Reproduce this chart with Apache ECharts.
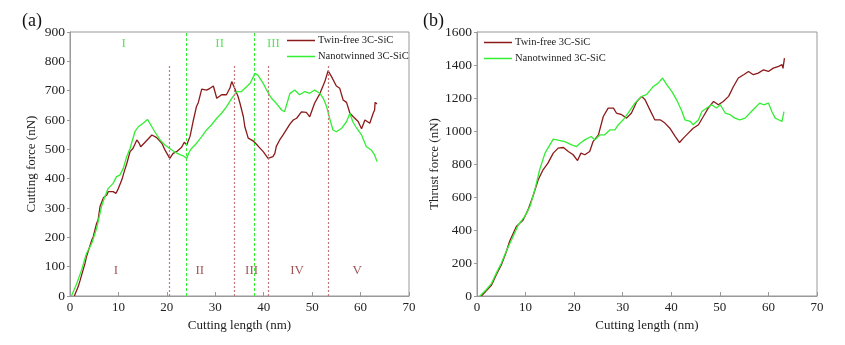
<!DOCTYPE html>
<html>
<head>
<meta charset="utf-8">
<script src="https://cdn.jsdelivr.net/npm/echarts@6/dist/echarts.min.js"></script>
<style>
  html, body { margin: 0; padding: 0; background: #fff; }
  #chart { width: 845px; height: 345px; }
</style>
</head>
<body>
<div id="chart"></div>
<script>
// (a) cutting force, twin-free
const cutTwinX = [0.9, 1.7, 2.1, 3.1, 3.4, 4.5, 4.8, 5.5, 5.8, 6.2, 6.9, 7.6, 7.9, 8.9, 9.5, 10.0, 10.7, 11.3, 11.7, 12.4, 13.0, 13.8, 14.3, 14.6, 15.6, 16.9, 17.9, 19.0, 19.6, 20.6, 21.3, 22.0, 23.0, 23.6, 24.1, 24.8, 25.4, 26.1, 26.5, 27.2, 28.2, 28.9, 29.6, 30.3, 31.3, 32.3, 33.0, 33.4, 34.0, 34.7, 35.1, 35.8, 36.1, 36.8, 37.8, 38.8, 39.9, 40.9, 41.3, 41.9, 42.3, 42.6, 43.3, 44.0, 44.3, 45.4, 46.1, 46.8, 47.8, 48.8, 49.5, 49.8, 50.5, 50.9, 51.6, 52.6, 53.3, 54.0, 55.0, 55.7, 56.4, 57.1, 57.8, 58.5, 59.5, 60.2, 60.5, 60.9, 61.2, 61.9, 62.6, 62.9, 63.0, 63.4];
const cutTwinY = [0, 32, 54, 111, 134, 191, 202, 248, 259, 305, 335, 344, 356, 356, 350, 367, 396, 430, 450, 492, 503, 532, 520, 509, 526, 549, 540, 520, 498, 469, 486, 492, 506, 524, 515, 545, 594, 645, 660, 705, 702, 708, 716, 674, 686, 686, 708, 731, 708, 680, 657, 611, 577, 538, 529, 512, 492, 469, 466, 475, 486, 510, 532, 549, 552, 586, 600, 606, 628, 626, 611, 612, 657, 660, 690, 730, 768, 748, 716, 708, 668, 660, 623, 611, 595, 570, 572, 600, 598, 589, 623, 634, 660, 655];
// (a) cutting force, nanotwinned
const cutNanoX = [0.3, 1.4, 2.4, 3.4, 4.5, 5.5, 6.5, 7.2, 7.9, 8.9, 9.6, 10.3, 11.0, 11.7, 12.4, 13.4, 14.1, 15.1, 16.0, 16.9, 17.5, 18.6, 19.6, 20.6, 21.7, 22.7, 23.4, 24.1, 24.6, 25.1, 26.1, 27.2, 28.2, 29.2, 30.3, 31.3, 32.3, 33.4, 34.4, 35.4, 36.5, 37.2, 38.2, 38.8, 39.9, 40.6, 41.6, 42.6, 43.7, 44.3, 45.4, 46.4, 47.4, 48.5, 49.5, 50.5, 51.6, 52.3, 53.0, 53.6, 54.3, 55.0, 56.1, 57.1, 57.8, 58.4, 59.2, 60.2, 61.2, 62.2, 62.9, 63.4];
const cutNanoY = [0, 43, 89, 145, 180, 231, 305, 339, 367, 384, 407, 412, 435, 475, 503, 560, 577, 589, 602, 577, 560, 532, 515, 503, 490, 482, 478, 469, 490, 503, 520, 543, 566, 583, 606, 623, 645, 674, 697, 697, 714, 725, 759, 753, 725, 702, 674, 657, 634, 628, 690, 702, 686, 697, 691, 702, 691, 674, 645, 606, 566, 560, 572, 594, 623, 594, 572, 549, 509, 498, 481, 458];

// (b) thrust force, twin-free
const thrTwinX = [0.9, 2.0, 3.0, 4.0, 5.0, 6.0, 6.7, 8.1, 9.5, 10.5, 11.5, 12.6, 13.6, 14.6, 15.7, 16.7, 17.8, 18.8, 19.8, 20.7, 21.4, 22.2, 23.2, 23.9, 25.0, 26.0, 27.0, 28.1, 28.7, 29.8, 30.8, 31.8, 32.9, 33.9, 34.6, 35.6, 36.6, 37.7, 38.7, 39.7, 40.8, 41.7, 42.5, 43.5, 44.5, 45.6, 46.6, 47.6, 48.7, 49.7, 50.7, 51.8, 52.8, 53.8, 54.9, 55.9, 56.9, 57.9, 59.0, 60.0, 61.0, 62.1, 62.8, 63.0, 63.3];
const thrTwinY = [0, 35, 67, 130, 188, 265, 330, 421, 461, 522, 603, 704, 765, 805, 866, 896, 900, 876, 856, 821, 866, 856, 876, 936, 977, 1088, 1139, 1139, 1109, 1099, 1078, 1109, 1179, 1210, 1189, 1128, 1068, 1068, 1048, 1017, 967, 930, 957, 987, 1017, 1038, 1088, 1139, 1179, 1159, 1179, 1210, 1270, 1321, 1341, 1361, 1341, 1351, 1371, 1361, 1381, 1392, 1402, 1380, 1442];
// (b) thrust force, nanotwinned
const thrNanoX = [0.6, 1.8, 3.0, 4.0, 5.0, 6.0, 7.1, 8.5, 9.8, 10.9, 11.9, 12.9, 14.0, 15.0, 15.7, 16.9, 18.1, 19.5, 20.5, 21.2, 22.2, 23.5, 24.3, 25.3, 26.3, 27.4, 28.4, 29.1, 30.1, 31.1, 32.5, 33.9, 34.9, 36.3, 37.3, 38.2, 39.1, 40.1, 41.1, 42.2, 42.8, 43.9, 44.5, 45.6, 46.3, 47.3, 48.3, 49.3, 50.1, 51.1, 52.1, 53.1, 54.1, 55.2, 56.2, 57.2, 58.2, 59.0, 60.0, 60.7, 61.4, 62.1, 62.8, 63.2];
const thrNanoY = [0, 35, 77, 140, 198, 270, 340, 431, 481, 542, 643, 765, 866, 916, 951, 943, 936, 916, 906, 926, 946, 967, 946, 977, 977, 1007, 1007, 1038, 1068, 1109, 1169, 1210, 1220, 1270, 1290, 1321, 1280, 1240, 1189, 1118, 1068, 1058, 1038, 1068, 1118, 1139, 1159, 1139, 1159, 1109, 1099, 1078, 1068, 1078, 1109, 1139, 1169, 1159, 1169, 1118, 1078, 1068, 1058, 1118];

// stage boundaries in (a)
const redBounds = [20.5, 34.0, 41.0, 53.3];
const redBoundTop = 785;
const greenBounds = [24.0, 38.0];
const greenBoundTop = 900;
const redStages = ['I', 'II', 'III', 'IV', 'V'];
const redStageX = [9.5, 26.8, 37.5, 46.9, 59.3];
const redStageY = 88;
const greenStages = ['I', 'II', 'III'];
const greenStageX = [11.1, 30.9, 42.0];
const greenStageY = 862;

const seriesNames = ['Twin-free 3C-SiC', 'Nanotwinned 3C-SiC'];
const RED = '#8b1a1a';
const GREEN = '#33ee33';
const FONT = '"Liberation Serif", "DejaVu Serif", serif';

function zip(xs, ys) { return xs.map((x, i) => [x, ys[i]]); }

function xAxisOpt(idx) {
  return {
    gridIndex: idx, type: 'value', min: 0, max: 70, interval: 10,
    name: 'Cutting length (nm)', nameLocation: 'middle', nameGap: 19,
    nameTextStyle: { fontFamily: FONT, fontSize: 13, color: '#222' },
    axisLine: { lineStyle: { color: '#999' } },
    axisTick: { inside: true, length: 4, lineStyle: { color: '#999' } },
    axisLabel: { fontFamily: FONT, fontSize: 13, color: '#222', margin: 5 },
    splitLine: { show: false }
  };
}
function yAxisOpt(idx, name, max, interval, gap) {
  return {
    gridIndex: idx, type: 'value', min: 0, max: max, interval: interval,
    name: name, nameLocation: 'middle', nameGap: gap, nameRotate: 90,
    nameTextStyle: { fontFamily: FONT, fontSize: 13, color: '#222' },
    axisLine: { lineStyle: { color: '#999' } },
    axisTick: { inside: false, length: 3, lineStyle: { color: '#999' } },
    axisLabel: { fontFamily: FONT, fontSize: 13.5, color: '#222', margin: 5,
                 formatter: v => String(v) },
    splitLine: { show: false }
  };
}
function lineSeries(name, color, data, idx, extra) {
  return Object.assign({
    name: name, type: 'line', xAxisIndex: idx, yAxisIndex: idx,
    data: data, symbol: 'none', animation: false,
    lineStyle: { color: color, width: 1.3 }, itemStyle: { color: color }
  }, extra || {});
}
function vLines(xs, top) {
  return xs.map(x => [{ coord: [x, 0] }, { coord: [x, top] }]);
}
function stageLabels(names, xs, y, color, idx) {
  return {
    type: 'scatter', xAxisIndex: idx, yAxisIndex: idx, symbolSize: 0,
    silent: true, animation: false,
    data: names.map((n, i) => ({ name: n, value: [xs[i], y] })),
    label: { show: true, position: 'inside', formatter: '{b}', color: color,
             fontFamily: FONT, fontSize: 13 }
  };
}
function legendOpt(left, top) {
  return {
    data: seriesNames, orient: 'vertical', left: left, top: top, padding: 0,
    itemWidth: 28, itemHeight: 1.5, itemGap: 5, icon: 'rect',
    textStyle: { fontFamily: FONT, fontSize: 10.5, color: '#222', padding: [0, 0, 0, -2] }
  };
}

const chart = echarts.init(document.getElementById('chart'));
chart.setOption({
  backgroundColor: '#fff',
  animation: false,
  graphic: [
    { type: 'text', left: 22, top: 12, style: { text: '(a)', font: '18px ' + FONT, fill: '#111' } },
    { type: 'text', left: 423, top: 12, style: { text: '(b)', font: '18px ' + FONT, fill: '#111' } }
  ],
  legend: [legendOpt(287, 35), legendOpt(484, 37)],
  grid: [
    { left: 70, top: 32, width: 339, height: 264, show: true, borderColor: '#999', borderWidth: 1 },
    { left: 477, top: 32, width: 340, height: 264, show: true, borderColor: '#999', borderWidth: 1 }
  ],
  xAxis: [xAxisOpt(0), xAxisOpt(1)],
  yAxis: [
    yAxisOpt(0, 'Cutting force (nN)', 900, 100, 32),
    yAxisOpt(1, 'Thrust force (nN)', 1600, 200, 35)
  ],
  series: [
    lineSeries(seriesNames[0], RED, zip(cutTwinX, cutTwinY), 0, {
      markLine: { silent: true, symbol: ['none', 'none'], label: { show: false },
        lineStyle: { color: '#c07878', type: [2, 2], width: 1.2 },
        data: vLines(redBounds, redBoundTop) }
    }),
    lineSeries(seriesNames[1], GREEN, zip(cutNanoX, cutNanoY), 0, {
      markLine: { silent: true, symbol: ['none', 'none'], label: { show: false },
        lineStyle: { color: GREEN, type: [3, 2], width: 1 },
        data: vLines(greenBounds, greenBoundTop) }
    }),
    lineSeries(seriesNames[0], RED, zip(thrTwinX, thrTwinY), 1),
    lineSeries(seriesNames[1], GREEN, zip(thrNanoX, thrNanoY), 1),
    stageLabels(redStages, redStageX, redStageY, '#8b2a2a', 0),
    stageLabels(greenStages, greenStageX, greenStageY, '#33dd33', 0)
  ]
});
</script>
</body>
</html>
